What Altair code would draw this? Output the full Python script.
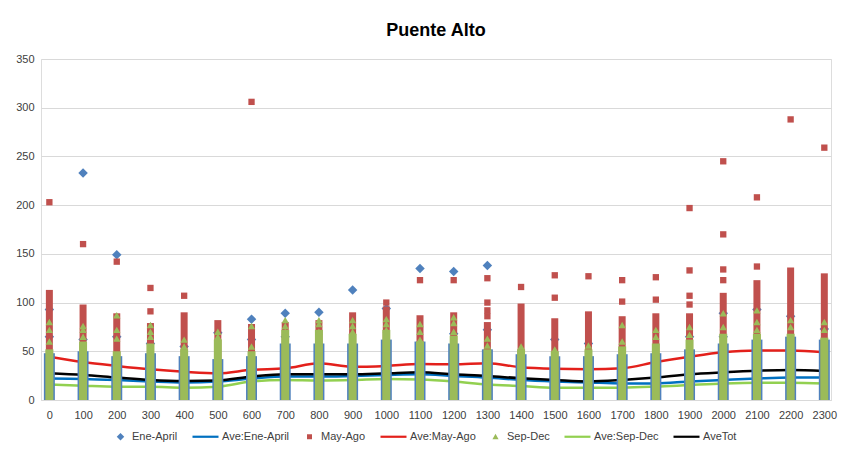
import altair as alt
import pandas as pd

# ---------------- data ----------------
hours = list(range(0, 2400, 100))

ave_ene_april = [22, 21.6, 20.5, 19, 18, 19, 22, 24, 24, 24.7, 25.7, 26.4,
                 24.7, 23, 20.5, 19, 18, 17, 17, 19, 20.5, 22, 23, 23]
ave_may_ago = [44.5, 39, 35, 31.5, 29, 27.4, 31, 32.5, 37.7, 34, 35, 37,
               36.6, 37.7, 33.6, 32, 31.5, 32.5, 39, 44.5, 49, 50.7, 50.7, 49]
ave_sep_dec = [16, 14.7, 13.7, 13.7, 12.7, 13.7, 19, 20.5, 20, 20.5, 21.6, 21,
               19, 16, 14.4, 12.7, 12.7, 12.7, 13.7, 15.4, 17, 17.8, 17.8, 17]
ave_tot = [27.4, 25.7, 23, 20.5, 19.5, 20, 24, 26.4, 26.4, 26.4, 27.4, 28.4,
           26.4, 24.7, 22.3, 20.5, 19, 20.5, 23, 26.4, 28.4, 30, 30.8, 29.8]

# top of the dense (overlapping) column of markers for each hour
ene_april_top = [48, 50, 45, 48, 45, 42, 45, 58, 58, 58, 62, 60,
                 58, 52, 47, 45, 45, 47, 48, 52, 58, 62, 65, 62]
may_ago_top = [113, 98, 89, 79, 90, 82, 78, 80, 82, 90, 96, 87,
               90, 80, 99, 84, 91, 86, 89, 89, 110, 123, 136, 130]
sep_dec_top = [52, 60, 50, 58, 52, 62, 50, 72, 72, 68, 72, 60,
               66, 52, 52, 50, 52, 55, 58, 62, 68, 68, 68, 64]

# separate markers visible above the dense columns
ene_april_points = {0: [65, 93], 100: [62, 233], 200: [65, 149], 300: [58],
                    400: [55], 500: [69], 600: [62, 83], 700: [65, 89],
                    800: [90], 900: [113], 1000: [94], 1100: [135],
                    1200: [68, 132], 1300: [72, 138], 1500: [62], 1600: [58],
                    1900: [65], 2000: [65, 89], 2100: [93], 2200: [86],
                    2300: [73]}
may_ago_points = {0: [203], 100: [160], 200: [142], 300: [91, 115],
                  400: [107], 600: [306], 1000: [100], 1100: [123],
                  1200: [123], 1300: [86, 92, 100, 125], 1400: [116],
                  1500: [105, 128], 1600: [127], 1700: [101, 123],
                  1800: [103, 126], 1900: [98, 107, 133, 197],
                  2000: [123, 134, 170, 245], 2100: [137, 208],
                  2200: [288], 2300: [259]}
sep_dec_points = {0: [60, 72, 80], 100: [65, 72, 76], 200: [63, 72, 87],
                  300: [65, 70, 77], 400: [55, 62], 500: [65, 70],
                  600: [55, 76], 700: [70, 76, 82], 800: [70, 78, 82],
                  900: [70, 76, 82], 1000: [72, 78, 83], 1100: [62, 70, 78],
                  1200: [70, 79, 85], 1300: [56, 63], 1400: [55], 1500: [52],
                  1600: [56], 1700: [60, 77], 1800: [65, 72], 1900: [67, 75],
                  2000: [75, 89], 2100: [72, 80, 92], 2200: [75, 82],
                  2300: [72, 80]}

legend_names = ["Ene-April", "Ave:Ene-April", "May-Ago", "Ave:May-Ago",
                "Sep-Dec", "Ave:Sep-Dec", "AveTot"]

# ---------------- styles ----------------
C_EA, C_MA, C_SD = "#4F81BD", "#C0504D", "#9BBB59"
L_EA, L_MA, L_SD, L_TOT = "#0070C0", "#E3201B", "#92D050", "#000000"
legend_colors = [C_EA, L_EA, C_MA, L_MA, C_SD, L_SD, L_TOT]
LINE_PATH = "M-3.6,-0.22H1.6V0.22H-3.6Z"
legend_shapes = ["M0,-0.75L0.75,0L0,0.75L-0.75,0Z", LINE_PATH,
                 "M-0.5,-0.5H0.5V0.5H-0.5Z", LINE_PATH,
                 "M0,-0.62L0.62,0.5H-0.62Z", LINE_PATH, LINE_PATH]

FONT = "Liberation Sans"

x_enc = alt.X("hour:Q",
              scale=alt.Scale(domain=[-10, 2305], nice=False, zero=False),
              axis=alt.Axis(values=hours, format="d", title=None, grid=False,
                            ticks=False, domain=True, domainColor="#d9d9d9",
                            labelPadding=9, labelFontSize=11, labelFont=FONT,
                            labelColor="#404040", labelFlush=False))
y_enc = alt.Y("value:Q",
              scale=alt.Scale(domain=[0, 350], nice=False),
              axis=alt.Axis(values=list(range(0, 351, 50)), title=None,
                            grid=True, gridColor="#d9d9d9", ticks=False,
                            domain=False, labelPadding=7, labelFontSize=11,
                            labelFont=FONT, labelColor="#404040"))

layers = []

# average lines (drawn beneath the marker columns)
for vals, col in [(ave_ene_april, L_EA), (ave_may_ago, L_MA),
                  (ave_sep_dec, L_SD), (ave_tot, L_TOT)]:
    df = pd.DataFrame({"hour": hours, "value": vals})
    layers.append(alt.Chart(df).mark_line(color=col, strokeWidth=2.5,
                                          interpolate="monotone")
                  .encode(x=x_enc, y=y_enc))


def points_df(d):
    rows = [(h, v) for h, vs in d.items() for v in vs]
    return pd.DataFrame(rows, columns=["hour", "value"])


for tops, pts, col, shape, width, size in [
        (ene_april_top, ene_april_points, C_EA, "diamond", 11, 90),
        (may_ago_top, may_ago_points, C_MA, "square", 7, 40),
        (sep_dec_top, sep_dec_points, C_SD, "triangle-up", 8, 55)]:
    bdf = pd.DataFrame({"hour": hours, "value": tops})
    layers.append(alt.Chart(bdf).mark_bar(color=col, size=width)
                  .encode(x=x_enc, y=y_enc))
    layers.append(alt.Chart(points_df(pts))
                  .mark_point(filled=True, opacity=1, shape=shape, size=size,
                              color=col)
                  .encode(x=x_enc, y=y_enc))

# legend layer (no visible marks; builds the combined legend)
leg = alt.Legend(title=None, orient="none", legendX=74, legendY=372,
                 direction="horizontal", columns=7, symbolSize=100,
                 labelFontSize=11, labelFont=FONT, labelColor="#404040",
                 columnPadding=14, labelOffset=6, symbolStrokeWidth=0)
ldf = pd.DataFrame({"series": legend_names, "hour": [0] * 7,
                    "value": [-1] * 7})
layers.append(
    alt.Chart(ldf).mark_point(filled=True, opacity=1)
    .encode(x=x_enc, y=y_enc,
            color=alt.Color("series:N",
                            scale=alt.Scale(domain=legend_names,
                                            range=legend_colors),
                            legend=leg),
            shape=alt.Shape("series:N",
                            scale=alt.Scale(domain=legend_names,
                                            range=legend_shapes),
                            legend=leg))
    .transform_filter("datum.value >= 0"))

chart = (alt.layer(*layers)
         .properties(width=790, height=341,
                     title=alt.TitleParams("Puente Alto", fontSize=18,
                                           font=FONT, fontWeight="bold",
                                           color="#000000", anchor="middle",
                                           offset=13),
                     autosize=alt.AutoSizeParams(type="none"),
                     padding={"left": 33, "top": 51, "right": 11,
                              "bottom": 50})
         .configure_view(stroke=None)
         .configure(background="white"))

chart.save("out.html", embed_options={"renderer": "svg", "actions": False})
